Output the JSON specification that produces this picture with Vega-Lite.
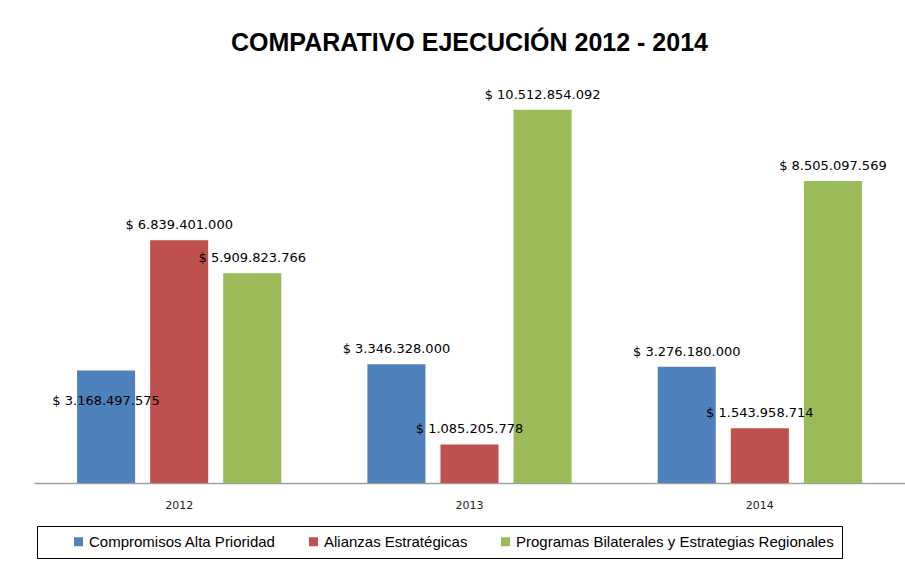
{
  "$schema": "https://vega.github.io/schema/vega-lite/v6.json",
  "width": 871,
  "height": 426,
  "padding": {"left": 34, "top": 31, "right": 0, "bottom": 0},
  "autosize": {"type": "pad"},
  "background": "white",
  "config": {
    "locale": {"number": {"decimal": ",", "thousands": ".", "grouping": [3], "currency": ["$ ", ""]}},
    "view": {"stroke": null}
  },
  "title": {
    "text": "COMPARATIVO EJECUCIÓN 2012 - 2014",
    "font": "Liberation Sans",
    "fontSize": 25,
    "fontWeight": "bold",
    "color": "#000000",
    "offset": 1
  },
  "data": {
    "values": [
      {"year": "2012", "serie": "Compromisos Alta Prioridad", "value": 3168497575},
      {"year": "2012", "serie": "Alianzas Estratégicas", "value": 6839401000},
      {"year": "2012", "serie": "Programas Bilaterales y Estrategias Regionales", "value": 5909823766},
      {"year": "2013", "serie": "Compromisos Alta Prioridad", "value": 3346328000},
      {"year": "2013", "serie": "Alianzas Estratégicas", "value": 1085205778},
      {"year": "2013", "serie": "Programas Bilaterales y Estrategias Regionales", "value": 10512854092},
      {"year": "2014", "serie": "Compromisos Alta Prioridad", "value": 3276180000},
      {"year": "2014", "serie": "Alianzas Estratégicas", "value": 1543958714},
      {"year": "2014", "serie": "Programas Bilaterales y Estrategias Regionales", "value": 8505097569}
    ]
  },
  "encoding": {
    "x": {
      "field": "year",
      "type": "nominal",
      "scale": {"paddingInner": 0, "paddingOuter": 0},
      "axis": {
        "title": null,
        "labelAngle": 0,
        "ticks": false,
        "labelFont": "DejaVu Sans",
        "labelFontSize": 11,
        "labelColor": "#222222",
        "labelPadding": 16,
        "domainColor": "#A0A0A0",
        "domainWidth": 1.5
      }
    },
    "xOffset": {
      "field": "serie",
      "type": "nominal",
      "sort": ["Compromisos Alta Prioridad", "Alianzas Estratégicas", "Programas Bilaterales y Estrategias Regionales"],
      "scale": {"paddingInner": 0.2055, "paddingOuter": 0.589}
    },
    "y": {
      "field": "value",
      "type": "quantitative",
      "scale": {"domain": [0, 12000000000]},
      "axis": null
    }
  },
  "layer": [
    {
      "mark": {"type": "bar"},
      "encoding": {
        "color": {
          "field": "serie",
          "type": "nominal",
          "sort": ["Compromisos Alta Prioridad", "Alianzas Estratégicas", "Programas Bilaterales y Estrategias Regionales"],
          "scale": {"range": ["#4F81BD", "#C0504D", "#9BBB59"]},
          "legend": {
            "orient": "none",
            "legendX": 3,
            "legendY": 469,
            "direction": "horizontal",
            "title": " ",
            "titleOrient": "left",
            "titleFontSize": 14,
            "titlePadding": 26,
            "padding": 8,
            "strokeColor": "#000000",
            "fillColor": "#FFFFFF",
            "symbolType": "square",
            "symbolSize": 81,
            "symbolStrokeWidth": 0,
            "labelFont": "Liberation Sans",
            "labelFontSize": 15,
            "labelColor": "#000000",
            "labelOffset": 3,
            "columnPadding": 30,
            "labelLimit": 600
          }
        }
      }
    },
    {
      "transform": [{"filter": "!(datum.year == '2012' && datum.serie == 'Compromisos Alta Prioridad')"}],
      "mark": {"type": "text", "dy": -15, "font": "DejaVu Sans", "fontSize": 13, "color": "#000000"},
      "encoding": {
        "text": {"field": "value", "type": "quantitative", "format": "$,.0f"}
      }
    },
    {
      "transform": [{"filter": "datum.year == '2012' && datum.serie == 'Compromisos Alta Prioridad'"}],
      "mark": {"type": "text", "dy": 30, "font": "DejaVu Sans", "fontSize": 13, "color": "#000000"},
      "encoding": {
        "text": {"field": "value", "type": "quantitative", "format": "$,.0f"}
      }
    }
  ]
}
